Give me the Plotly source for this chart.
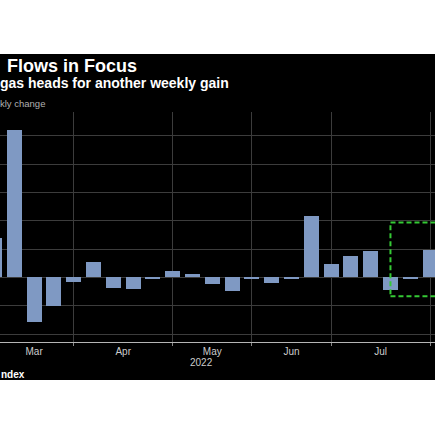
import plotly.graph_objects as go

# weekly % change, week ending (Fridays)
weeks = [
    "2022-02-25", "2022-03-04", "2022-03-11", "2022-03-18", "2022-03-25",
    "2022-04-01", "2022-04-08", "2022-04-15", "2022-04-22", "2022-04-29",
    "2022-05-06", "2022-05-13", "2022-05-20", "2022-05-27", "2022-06-03",
    "2022-06-10", "2022-06-17", "2022-06-24", "2022-07-01", "2022-07-08",
    "2022-07-15", "2022-07-22", "2022-07-29",
]
weekly_change = [
    27.8, 103.8, -31.8, -20.0, -3.6,
    10.8, -7.4, -8.2, -0.6, 4.8,
    2.4, -4.6, -9.4, -0.6, -4.2,
    -0.5, 43.0, 9.2, 15.0, 18.6,
    -9.2, -0.5, 19.2,
]

month_labels = ["Mar", "Apr", "May", "Jun", "Jul"]
month_label_pos = ["2022-03-11", "2022-04-11 12:00", "2022-05-13", "2022-06-10", "2022-07-11 12:00"]
month_grid = ["2022-02-25", "2022-03-25", "2022-04-29", "2022-05-27", "2022-06-24", "2022-07-29"]

highlight_x = ["2022-07-15", "2022-08-10"]
highlight_y = [-13.4, 38.8]

bar_width_ms = 5.3 * 24 * 3600 * 1000

fig = go.Figure()
fig.add_trace(go.Bar(
    x=weeks, y=weekly_change,
    width=bar_width_ms,
    marker=dict(color="#7f99c3", line=dict(width=0)),
    showlegend=False,
))

# black panel behind the whole chart block
fig.add_shape(type="rect", xref="paper", yref="paper",
              x0=-0.05, x1=1.05, y0=-0.165, y1=1.252,
              fillcolor="#000000", line=dict(width=0), layer="below")

# dashed highlight box
fig.add_shape(type="rect", xref="x", yref="y",
              x0=highlight_x[0], x1=highlight_x[1],
              y0=highlight_y[0], y1=highlight_y[1],
              line=dict(color="#35c935", width=2, dash="5px,3px"),
              fillcolor="rgba(0,0,0,0)", layer="above")

def note(text, y_px, size, color, bold=False, xshift=0):
    fig.add_annotation(
        xref="paper", yref="paper", x=0, y=1 + (112 - y_px) / 230,
        xanchor="left", yanchor="middle", xshift=xshift,
        text=f"<b>{text}</b>" if bold else text, showarrow=False,
        font=dict(size=size, color=color, family="Liberation Sans, Arial"),
    )

note("Flows in Focus", 66, 18, "#ffffff", bold=True, xshift=5)
note("gas heads for another weekly gain", 83, 14, "#ffffff", bold=True, xshift=-2)
note("kly change", 103, 9.5, "#b0b0b0", xshift=-2)
note("ndex", 374, 10, "#ffffff", bold=True, xshift=-1)

fig.add_annotation(
    xref="x", yref="paper", x="2022-05-09 08:00", y=(342 - 362) / 230,
    text="2022", showarrow=False, yanchor="middle",
    font=dict(size=10, color="#cccccc", family="Liberation Sans, Arial"),
)

fig.update_layout(
    width=435, height=435, autosize=False,
    margin=dict(l=0, r=0, t=112, b=93),
    paper_bgcolor="#ffffff", plot_bgcolor="#000000",
    bargap=0,
    xaxis=dict(
        type="date",
        range=["2022-02-26 22:30", "2022-07-30 18:00"],
        tickvals=month_label_pos, ticktext=month_labels,
        ticks="", showgrid=False, zeroline=False,
        showline=True, linecolor="#b5b5b5", linewidth=1,
        tickfont=dict(size=10, color="#cccccc", family="Liberation Sans, Arial"),
        minor=dict(tickvals=month_grid, showgrid=True, gridcolor="#3c3c3c",
                   gridwidth=1, ticks="outside", ticklen=3, tickcolor="#888888"),
    ),
    yaxis=dict(
        range=[-45.6, 116.7],
        tickvals=[-40, -20, 0, 20, 40, 60, 80, 100],
        showticklabels=False, ticks="",
        showgrid=True, gridcolor="#3c3c3c", gridwidth=1,
        zeroline=False, showline=False,
    ),
)

fig.write_html("out.html", config={"displayModeBar": False},
               post_script="document.body.style.margin='0';")
